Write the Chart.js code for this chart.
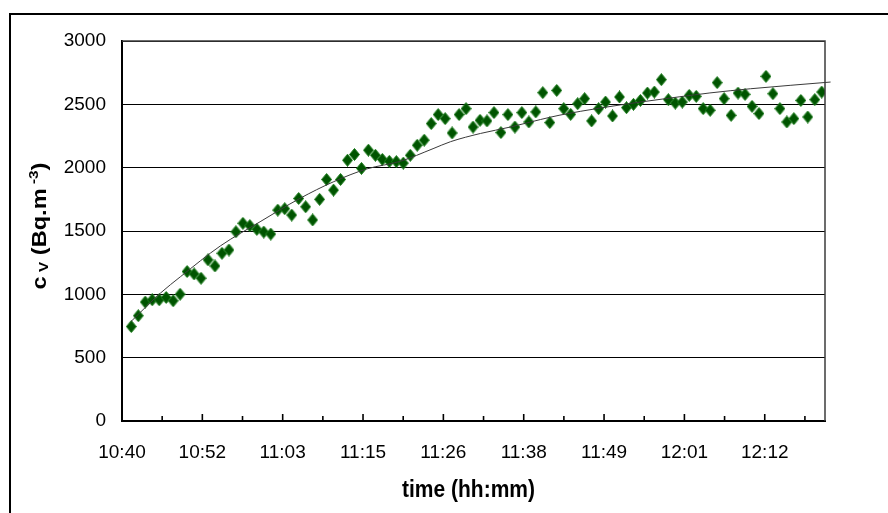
<!DOCTYPE html>
<html>
<head>
<meta charset="utf-8">
<script src="https://cdn.jsdelivr.net/npm/chart.js@4.4.1/dist/chart.umd.min.js"></script>
<style>
  html, body { margin: 0; padding: 0; background: #fff; overflow: hidden; }
  canvas { display: block; }
</style>
</head>
<body>
<canvas id="chart" width="888" height="513"></canvas>
<script>
// x axis runs in minutes after startTime
const startTime = '10:40';
const axisEndMinutes = 100.8;
const xTickLabels = ['10:40', '10:52', '11:03', '11:15', '11:26', '11:38', '11:49', '12:01', '12:12'];
const xTickMinutes = [0, 11.52, 23.04, 34.56, 46.08, 57.6, 69.12, 80.64, 92.16];
const yTickValues = [0, 500, 1000, 1500, 2000, 2500, 3000];

const times = (
  '10:41:20 10:42:20 10:43:20 10:44:20 10:45:20 10:46:20 10:47:20 10:48:20 10:49:20 10:50:20 ' +
  '10:51:20 10:52:20 10:53:20 10:54:20 10:55:20 10:56:20 10:57:20 10:58:20 10:59:20 11:00:20 ' +
  '11:01:20 11:02:20 11:03:20 11:04:20 11:05:20 11:06:20 11:07:20 11:08:20 11:09:20 11:10:20 ' +
  '11:11:20 11:12:20 11:13:20 11:14:20 11:15:20 11:16:20 11:17:20 11:18:20 11:19:20 11:20:20 ' +
  '11:21:20 11:22:20 11:23:20 11:24:20 11:25:20 11:26:20 11:27:20 11:28:20 11:29:20 11:30:20 ' +
  '11:31:20 11:32:20 11:33:20 11:34:20 11:35:20 11:36:20 11:37:20 11:38:20 11:39:20 11:40:20 ' +
  '11:41:20 11:42:20 11:43:20 11:44:20 11:45:20 11:46:20 11:47:20 11:48:20 11:49:20 11:50:20 ' +
  '11:51:20 11:52:20 11:53:20 11:54:20 11:55:20 11:56:20 11:57:20 11:58:20 11:59:20 12:00:20 ' +
  '12:01:20 12:02:20 12:03:20 12:04:20 12:05:20 12:06:20 12:07:20 12:08:20 12:09:20 12:10:20 ' +
  '12:11:20 12:12:20 12:13:20 12:14:20 12:15:20 12:16:20 12:17:20 12:18:20 12:19:20 12:20:20'
).split(' ');

const concentration = [
  746, 831, 939, 957, 957, 975, 949, 1001, 1180, 1161,
  1127, 1272, 1224, 1324, 1350, 1494, 1561, 1542, 1513, 1492,
  1476, 1665, 1676, 1626, 1757, 1691, 1587, 1750, 1907, 1823,
  1907, 2059, 2104, 1994, 2138, 2098, 2065, 2050, 2048, 2036,
  2098, 2177, 2217, 2348, 2419, 2387, 2274, 2419, 2466, 2321,
  2374, 2369, 2435, 2277, 2419, 2321, 2435, 2361, 2440, 2592,
  2356, 2610, 2466, 2421, 2505, 2545, 2369, 2466, 2518, 2408,
  2558, 2474, 2500, 2531, 2589, 2597, 2695, 2537, 2510, 2518,
  2571, 2563, 2466, 2453, 2671, 2545, 2413, 2589, 2579, 2484,
  2427, 2721, 2584, 2466, 2361, 2387, 2531, 2400, 2537, 2597
];

// trend line
const trendMinutes = [1.3, 5.5, 8.4, 14.1, 19.8, 25.5, 30.3, 35.1, 39.9, 44.6, 47.1, 51.4,
  55.7, 60.0, 62.8, 68.6, 74.3, 80.0, 84.3, 90.1, 95.8, 101.6];
const trendValues = [786, 1009, 1140, 1382, 1573, 1757, 1888, 1990, 2050, 2150, 2205, 2270,
  2321, 2380, 2415, 2471, 2518, 2560, 2590, 2623, 2650, 2676];

const FONT = '"Liberation Sans", Arial, sans-serif';

function toMinutes(hms) {
  const [h, m, s = 0] = hms.split(':').map(Number);
  const [h0, m0] = startTime.split(':').map(Number);
  return (h - h0) * 60 + (m - m0) + s / 60;
}

// slightly tall diamond marker, like the original
function makeDiamond(w, h) {
  const c = document.createElement('canvas');
  c.width = w;
  c.height = h;
  const g = c.getContext('2d');
  g.beginPath();
  g.moveTo(w / 2, 0.5);
  g.lineTo(w - 0.5, h / 2);
  g.lineTo(w / 2, h - 0.5);
  g.lineTo(0.5, h / 2);
  g.closePath();
  g.fillStyle = '#005400';
  g.fill();
  g.strokeStyle = '#1f7f1f';
  g.lineWidth = 1;
  g.stroke();
  return c;
}

const decorations = {
  id: 'decorations',
  afterDraw(chart) {
    const { ctx, chartArea: area, scales: { x } } = chart;
    ctx.save();

    // outer frame
    ctx.strokeStyle = '#000';
    ctx.lineWidth = 2;
    ctx.strokeRect(10, 14, 900, 600);

    // plot area top / right border
    ctx.strokeStyle = '#3c3c3c';
    ctx.lineWidth = 1.5;
    ctx.beginPath();
    ctx.moveTo(area.left, area.top);
    ctx.lineTo(area.right, area.top);
    ctx.lineTo(area.right, area.bottom);
    ctx.stroke();

    // inward tick marks on the time axis
    const half = (xTickMinutes[1] - xTickMinutes[0]) / 2;
    ctx.strokeStyle = '#000';
    ctx.lineWidth = 1.6;
    xTickMinutes.forEach(v => {
      const px = x.getPixelForValue(v);
      ctx.beginPath();
      ctx.moveTo(px, area.bottom);
      ctx.lineTo(px, area.bottom - 7);
      ctx.stroke();
      if (v + half < axisEndMinutes) {
        const mx = x.getPixelForValue(v + half);
        ctx.beginPath();
        ctx.moveTo(mx, area.bottom);
        ctx.lineTo(mx, area.bottom - 5);
        ctx.stroke();
      }
    });

    // x title
    ctx.fillStyle = '#000';
    ctx.font = 'bold 21px ' + FONT;
    ctx.textAlign = 'center';
    ctx.textBaseline = 'alphabetic';
    ctx.save();
    ctx.translate((area.left + area.right) / 2 - 5, 497);
    ctx.scale(1, 1.12);
    ctx.fillText('time (hh:mm)', 0, 0);
    ctx.restore();

    // y title with sub / superscript
    const parts = [
      { text: 'c', size: 20, dy: 0 },
      { text: ' V', size: 13, dy: 2 },
      { text: ' (Bq.m', size: 20, dy: 0 },
      { text: ' -3', size: 13, dy: -8 },
      { text: ')', size: 20, dy: 0 }
    ];
    let total = 0;
    parts.forEach(p => {
      ctx.font = 'bold ' + p.size + 'px ' + FONT;
      p.w = ctx.measureText(p.text).width;
      total += p.w;
    });
    ctx.translate(45.5, 226);
    ctx.rotate(-Math.PI / 2);
    ctx.scale(1.18, 1);
    ctx.textAlign = 'left';
    let cx = -total / 2;
    parts.forEach(p => {
      ctx.font = 'bold ' + p.size + 'px ' + FONT;
      ctx.fillText(p.text, cx, p.dy);
      cx += p.w;
    });

    ctx.restore();
  }
};

new Chart(document.getElementById('chart'), {
  data: {
    datasets: [
      {
        type: 'line',
        data: trendMinutes.map((m, i) => ({ x: m, y: trendValues[i] })),
        borderColor: '#3a3a3a',
        borderWidth: 1,
        pointRadius: 0,
        cubicInterpolationMode: 'monotone',
        clip: false
      },
      {
        type: 'scatter',
        data: times.map((t, i) => ({ x: toMinutes(t), y: concentration[i] })),
        pointStyle: makeDiamond(11, 13),
        pointRadius: 6
      }
    ]
  },
  options: {
    responsive: false,
    animation: false,
    devicePixelRatio: 1,
    layout: { padding: { left: 0, top: 41, right: 63, bottom: 0 } },
    plugins: { legend: { display: false }, tooltip: { enabled: false } },
    scales: {
      x: {
        type: 'linear',
        min: 0,
        max: axisEndMinutes,
        afterBuildTicks: scale => { scale.ticks = xTickMinutes.map(v => ({ value: v })); },
        afterFit: scale => { scale.height = 92; },
        grid: { display: false, drawTicks: false },
        border: { display: true, color: '#000', width: 2 },
        ticks: {
          autoSkip: false,
          maxRotation: 0,
          padding: 20,
          color: '#000',
          font: { family: FONT, size: 19 },
          callback: (value, index) => xTickLabels[index]
        }
      },
      y: {
        min: 0,
        max: 3000,
        afterBuildTicks: scale => { scale.ticks = yTickValues.map(v => ({ value: v })); },
        afterFit: scale => { scale.width = 122; },
        grid: { color: '#000', lineWidth: 1, drawTicks: false },
        border: { display: true, color: '#000', width: 2 },
        ticks: {
          padding: 16,
          color: '#000',
          font: { family: FONT, size: 19 },
          callback: value => String(value)
        }
      }
    }
  },
  plugins: [decorations]
});
</script>
</body>
</html>
